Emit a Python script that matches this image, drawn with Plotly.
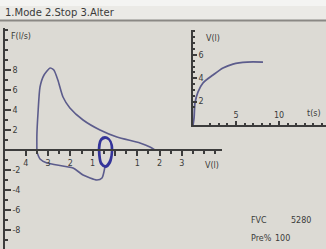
import plotly.graph_objects as go

W, H = 326, 249

# ---- Data ----
# Forced expiration: from full inspiration up to peak flow, then down to residual volume
exp_volume = [-3.50, -3.50, -3.45, -3.36, -3.18, -2.91, -2.74, -2.56, -2.33, -2.02,
              -1.43, -0.67, 0.09, 1.12, 1.57, 1.79]
exp_flow = [-0.2, 1.5, 3.7, 6.3, 7.5, 8.2, 8.0, 7.0, 5.3, 4.2,
            3.0, 2.0, 1.3, 0.7, 0.3, 0.0]
# Inspiration from tidal loop to full inspiration
insp_volume = [-0.45, -0.58, -0.81, -1.43, -1.88, -3.05, -3.36, -3.50]
insp_flow = [-1.7, -2.8, -3.0, -2.5, -1.8, -1.3, -0.9, -0.2]
# Tidal breathing loops
tidal1_volume = [-0.45, -0.27, -0.13, -0.13, -0.22, -0.40, -0.63, -0.72, -0.72, -0.63, -0.45]
tidal1_flow = [1.3, 1.1, 0.5, -0.5, -1.3, -1.7, -1.4, -0.5, 0.5, 1.1, 1.3]
tidal2_volume = [-0.42, -0.25, -0.16, -0.17, -0.26, -0.42, -0.60, -0.68, -0.67, -0.60, -0.42]
tidal2_flow = [1.2, 1.0, 0.4, -0.6, -1.2, -1.6, -1.3, -0.4, 0.6, 1.0, 1.2]

# Volume-time curve
vt_time = [0.0, 0.12, 0.23, 0.58, 1.16, 2.33, 3.49, 4.65, 6.28, 8.14]
vt_volume = [0.0, 0.6, 1.88, 2.82, 3.59, 4.27, 4.87, 5.21, 5.38, 5.38]

fv_x_ticks = [-4, -3, -2, -1, 0, 1, 2, 3]
fv_x_labels = ["4", "3", "2", "1", "", "1", "2", "3"]
fv_y_ticks = [-8, -6, -4, -2, 0, 2, 4, 6, 8]
fv_y_labels = ["-8", "-6", "-4", "-2", "", "2", "4", "6", "8"]
vt_x_ticks = [5, 10]
vt_y_ticks = [2, 4, 6]

menu_text = "1.Mode 2.Stop 3.Alter"
results = [("FVC", "5280"), ("Pre%", "100")]

BG = "#dcdad4"
AX = "#3c3c3c"
CURVE = "#5c5c8c"
LOOP = "#34349a"
FONT = dict(family="DejaVu Sans", size=8, color="#3a3a3a")

fig = go.Figure()
fig.add_trace(go.Scatter(x=exp_volume, y=exp_flow, mode="lines",
                         line=dict(color=CURVE, width=1.6, shape="spline", smoothing=0.6),
                         xaxis="x", yaxis="y", hoverinfo="skip"))
fig.add_trace(go.Scatter(x=insp_volume, y=insp_flow, mode="lines",
                         line=dict(color=CURVE, width=1.6, shape="spline", smoothing=0.6),
                         xaxis="x", yaxis="y", hoverinfo="skip"))
for vx, fy in [(tidal1_volume, tidal1_flow), (tidal2_volume, tidal2_flow)]:
    fig.add_trace(go.Scatter(x=vx, y=fy, mode="lines",
                             line=dict(color=LOOP, width=1.8, shape="spline", smoothing=1.0),
                             xaxis="x", yaxis="y", hoverinfo="skip"))
fig.add_trace(go.Scatter(x=vt_time, y=vt_volume, mode="lines",
                         line=dict(color=CURVE, width=1.8, shape="spline", smoothing=0.8),
                         xaxis="x2", yaxis="y2", hoverinfo="skip"))

def px2paper_x(px):
    return px / W

def py2paper_y(py):
    return 1 - py / H

common_axis = dict(showgrid=False, zeroline=False, showline=True, linecolor=AX, linewidth=2,
                   tickcolor=AX, tickfont=FONT, fixedrange=True)

fig.update_layout(
    width=W, height=H, autosize=False,
    margin=dict(l=0, r=0, t=0, b=0),
    paper_bgcolor=BG, plot_bgcolor="rgba(0,0,0,0)",
    showlegend=False,
    xaxis=dict(domain=[px2paper_x(5), px2paper_x(222)], range=[-4.93, 4.80],
               anchor="free", position=py2paper_y(150),
               tickmode="array", tickvals=fv_x_ticks, ticktext=fv_x_labels,
               ticks="outside", ticklen=5, tickwidth=1.5,
               minor=dict(dtick=0.5, ticks="outside", ticklen=3, tickcolor=AX),
               **common_axis),
    yaxis=dict(domain=[0, py2paper_y(28)], range=[-9.9, 12.2], anchor="x",
               tickmode="array", tickvals=fv_y_ticks, ticktext=fv_y_labels,
               ticks="inside", ticklen=6, tickwidth=1.5, ticklabelposition="inside",
               minor=dict(dtick=1, ticks="inside", ticklen=3, tickcolor=AX),
               **common_axis),
    xaxis2=dict(domain=[px2paper_x(193), 1], range=[0, 15.47], anchor="y2",
                tickmode="array", tickvals=vt_x_ticks,
                ticks="inside", ticklen=4, tickwidth=1.5, ticklabelposition="inside",
                minor=dict(dtick=1, ticks="inside", ticklen=2, tickcolor=AX),
                **common_axis),
    yaxis2=dict(domain=[py2paper_y(125), py2paper_y(30)], range=[0, 8.12], anchor="x2",
                tickmode="array", tickvals=vt_y_ticks,
                ticks="inside", ticklen=4, tickwidth=1.5, ticklabelposition="inside",
                minor=dict(dtick=0.5, ticks="inside", ticklen=2, tickcolor=AX),
                **common_axis),
)

shapes = [
    dict(type="rect", xref="paper", yref="paper", x0=0, x1=1, y0=py2paper_y(20), y1=1,
         fillcolor="#ebeae6", line=dict(width=0), layer="below"),
    dict(type="rect", xref="paper", yref="paper", x0=0, x1=1, y0=py2paper_y(6), y1=1,
         fillcolor="#f4f4f2", line=dict(width=0), layer="below"),
    dict(type="line", xref="paper", yref="paper", x0=0, x1=1, y0=py2paper_y(20.5), y1=py2paper_y(20.5),
         line=dict(color="#8a8884", width=2)),
]
fig.update_layout(shapes=shapes)

ann = [
    dict(text=menu_text, x=px2paper_x(3), y=py2paper_y(13), xanchor="left", yanchor="middle",
         font=dict(family="DejaVu Sans", size=10, color="#3a3a3a")),
    dict(text="F(l/s)", x=px2paper_x(9), y=py2paper_y(36), xanchor="left", yanchor="middle"),
    dict(text="V(l)", x=px2paper_x(203), y=py2paper_y(165), xanchor="left", yanchor="middle"),
    dict(text="V(l)", x=px2paper_x(204), y=py2paper_y(38), xanchor="left", yanchor="middle"),
    dict(text="t(s)", x=px2paper_x(305), y=py2paper_y(113), xanchor="left", yanchor="middle"),
    dict(text=results[0][0], x=px2paper_x(249), y=py2paper_y(220), xanchor="left", yanchor="middle"),
    dict(text=results[0][1], x=px2paper_x(289), y=py2paper_y(220), xanchor="left", yanchor="middle"),
    dict(text=results[1][0], x=px2paper_x(249), y=py2paper_y(238), xanchor="left", yanchor="middle"),
    dict(text=results[1][1], x=px2paper_x(273), y=py2paper_y(238), xanchor="left", yanchor="middle"),
]
for a in ann:
    a.setdefault("font", FONT)
    a.update(xref="paper", yref="paper", showarrow=False)
fig.update_layout(annotations=ann)

fig.write_html("out.html", config={"displayModeBar": False},
               post_script="document.body.style.margin='0';document.body.style.overflow='hidden';")
